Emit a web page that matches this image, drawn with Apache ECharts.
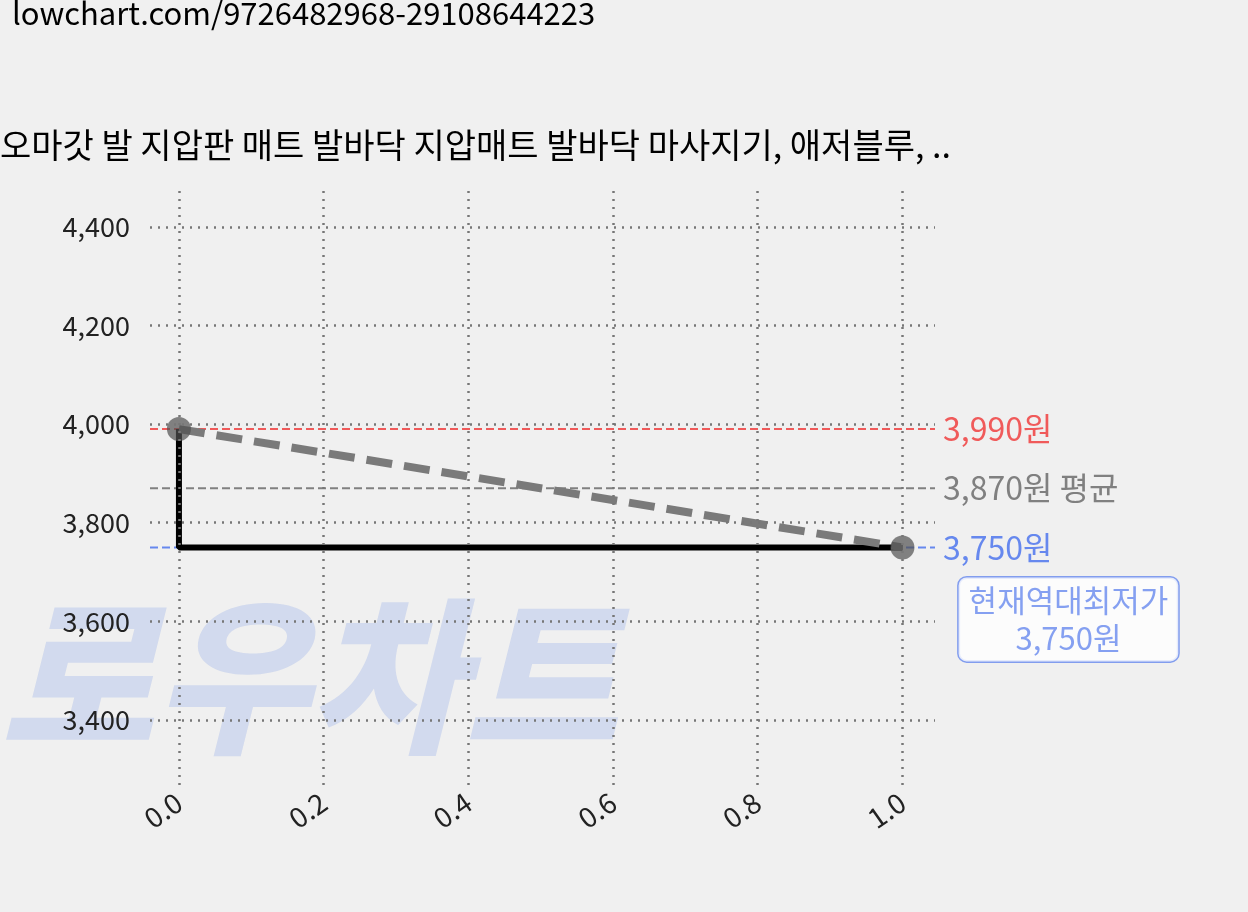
<!DOCTYPE html>
<html><head><meta charset="utf-8">
<script src="https://cdn.jsdelivr.net/npm/echarts@6/dist/echarts.min.js"></script>
<style>html,body{margin:0;background:#f0f0f0}#c{width:1248px;height:912px}</style>
</head><body><div id="c"></div>
<script>
const stepPts = [[0,3990],[0,3750],[1,3750]];
const trendPts = [[0,3990],[1,3750]];
const maxPrice = 3990, avgPrice = 3870, minPrice = 3750;
const xTicks = [0,0.2,0.4,0.6,0.8,1.0];
const yTicks = [3400,3600,3800,4000,4200,4400];
const F = "'Noto Sans CJK KR', 'Noto Sans', sans-serif";
const fmt = v => v.toLocaleString('en-US');
const chart = echarts.init(document.getElementById('c'));
const hline = (v, color, text) => ({
  type:'line', data:[[-0.04,v],[1.045,v]], symbol:'none', silent:true,
  lineStyle:{color, type:[8,4], width:2}, z:1,
  endLabel:{show:true, formatter:text, color, fontSize:32, fontFamily:F, offset:[0,0]}
});
chart.setOption({
  backgroundColor:'#f0f0f0',
  animation:false,
  graphic:[
    {type:'text', left:12, top:-2, style:{text:'lowchart.com/9726482968-29108644223', fontSize:31, fontFamily:F, fill:'#000'}},
    {type:'text', left:0, top:128, style:{text:'오마갓 발 지압판 매트 발바닥 지압매트 발바닥 마사지기, 애저블루, ..', fontSize:34, fontFamily:F, fill:'#000'}},
    {type:'text', left:0, top:592, z:0, style:{text:'로우차트', fontSize:168, fontWeight:900, fontStyle:'italic', fontFamily:F, fill:'rgba(120,150,230,0.25)'}}
  ],
  grid:{left:150, right:313, top:190, bottom:127},
  xAxis:{type:'value', min:-0.04, max:1.045, interval:0.2,
    axisLine:{show:false}, axisTick:{show:false},
    axisLabel:{rotate:35, fontSize:28, fontFamily:F, color:'#222', margin:14,
      customValues:xTicks, formatter:v=>v.toFixed(1)},
    splitLine:{show:false}},
  yAxis:{type:'value', min:3268, max:4475,
    axisLine:{show:false}, axisTick:{show:false},
    axisLabel:{fontSize:27, fontFamily:F, color:'#222', customValues:yTicks, formatter:fmt, margin:20},
    splitLine:{show:false}},
  series:[
    {type:'line', data:[], symbol:'none', silent:true,
     markLine:{silent:true, symbol:'none', label:{show:false},
       lineStyle:{color:'#777', type:[2,6], width:2.5},
       data: yTicks.map(v=>({yAxis:v})).concat(xTicks.map(v=>({xAxis:v})))}},
    hline(maxPrice,'#f05a5a', fmt(maxPrice)+'원'),
    hline(avgPrice,'#808080', fmt(avgPrice)+'원 평균'),
    hline(minPrice,'#6688ee', fmt(minPrice)+'원'),
    {type:'line', data:stepPts, symbol:'none', lineStyle:{color:'#000', width:6}, z:3},
    {type:'line', data:trendPts, symbol:'circle', symbolSize:24,
     itemStyle:{color:'rgba(80,80,80,0.7)'}, lineStyle:{color:'#7a7a7a', width:8, type:[26,12]}, z:4},
    {type:'scatter', data:[[1,minPrice]], symbolSize:1, itemStyle:{color:'rgba(0,0,0,0)'}, z:6,
     label:{show:true, formatter:'현재역대최저가\n3,750원', color:'#6688ee', fontSize:31, fontFamily:F, lineHeight:38,
       backgroundColor:'#fff', borderColor:'#6688ee', borderWidth:1.5, borderRadius:8, padding:[4,10,4,10],
       position:'inside', offset:[166,72]}}
  ]
});
</script></body></html>
